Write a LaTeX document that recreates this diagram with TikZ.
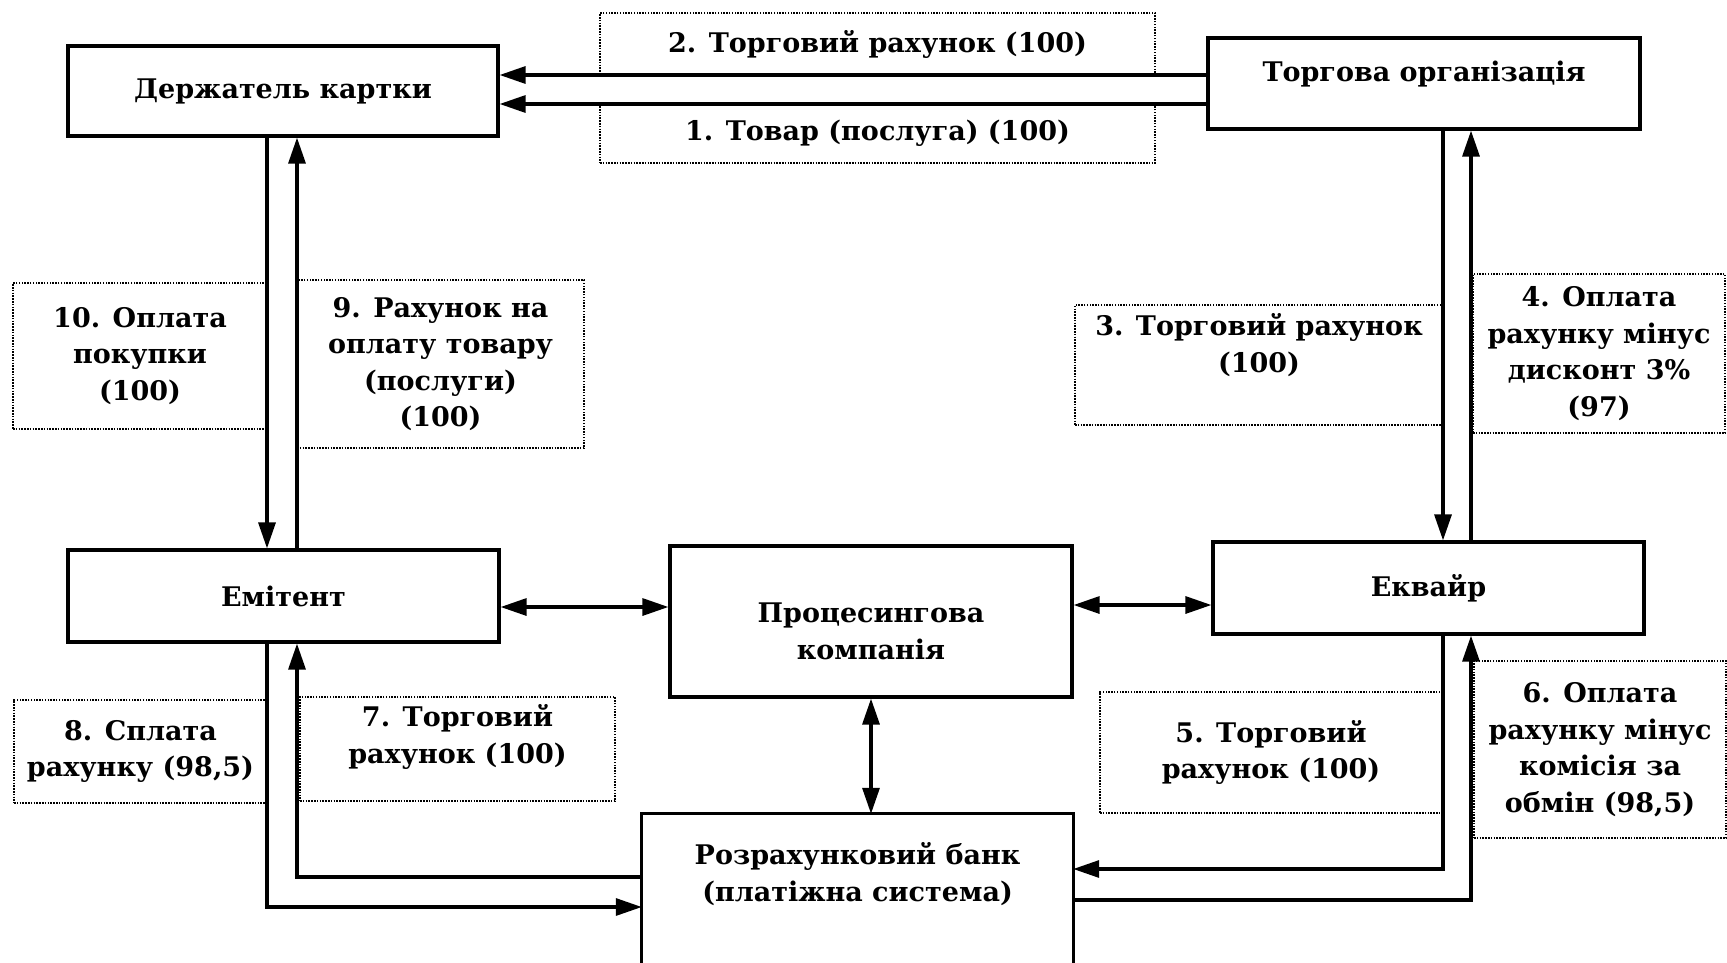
\documentclass[tikz,border=0pt]{standalone}
\usepackage{fontspec}
\setmainfont{DejaVu Serif}
\usepackage{tikz}
\usetikzlibrary{arrows.meta}

\begin{document}
\begin{tikzpicture}[x=1pt, y=-1pt,
        font=\fontsize{27}{36.5}\selectfont\bfseries,
        box/.style={draw, line width=3.2pt, align=center, inner sep=0pt},
        note/.style={draw, line width=1.6pt, dash pattern=on 1.5pt off 1.3pt, align=center, inner sep=0pt},
        arr/.style={line width=3.2pt, -{Triangle[length=26pt, width=17pt]}},
        dbl/.style={line width=3.2pt, {Triangle[length=26pt, width=17pt]}-{Triangle[length=26pt, width=17pt]}}]

        \useasboundingbox (0,0) rectangle (1727,962);

        \node[note, minimum width=555pt, minimum height=62pt] (n2) at (877.5,44) {2. Торговий рахунок (100)};
        \node[note, minimum width=555pt, minimum height=60pt] (n1) at (877.5,133) {1. Товар (послуга) (100)};
        \node[note, minimum width=254pt, minimum height=146pt] (n10) at (140,356) {10. Оплата\\покупки\\(100)};
        \node[note, minimum width=287pt, minimum height=168pt] (n9) at (440.5,364) {9. Рахунок на\\оплату товару\\(послуги)\\(100)};
        \node[note, minimum width=368pt, minimum height=120pt,
            label={[align=center, yshift=20pt]center:3. Торговий рахунок\\(100)}] (n3) at (1259,365) {};
        \node[note, minimum width=252pt, minimum height=159pt] (n4) at (1599,353.5) {4. Оплата\\рахунку мінус\\дисконт 3\%\\(97)};
        \node[note, minimum width=342pt, minimum height=121pt] (n5) at (1271,752.5) {5. Торговий\\рахунок (100)};
        \node[note, minimum width=252pt, minimum height=177pt] (n6) at (1600,749.5) {6. Оплата\\рахунку мінус\\комісія за\\обмін (98,5)};
        \node[note, minimum width=315pt, minimum height=104pt,
            label={[align=center, yshift=12pt]center:7. Торговий\\рахунок (100)}] (n7) at (457.5,749) {};
        \node[note, minimum width=253pt, minimum height=103pt] (n8) at (140.5,751.5) {8. Сплата\\рахунку (98,5)};

        \node[box, fill=white, minimum width=430pt, minimum height=90pt] (derzh) at (283,91) {Держатель картки};
        \node[box, fill=white, minimum width=432pt, minimum height=91pt, text depth=24pt] (torg) at (1424,83.5) {Торгова організація};
        \node[box, minimum width=431pt, minimum height=92pt] (emit) at (283.5,596) {Емітент};
        \node[box, minimum width=402pt, minimum height=151pt,
            label={[align=center, yshift=-10pt]center:Процесингова\\компанія}] (proc) at (871,621.5) {};
        \node[box, minimum width=431pt, minimum height=92pt] (ekv) at (1428.5,588) {Еквайр};
        \node[minimum width=431pt, minimum height=120pt, align=center, inner sep=0pt] (bank) at (857.5,874) {Розрахунковий банк\\(платіжна система)};
        \draw[line width=3.2pt] ([yshift=-60pt]bank.south west) -- (bank.north west) -- (bank.north east) -- ([yshift=-60pt]bank.south east);

        \draw[arr] (torg.west |- 0,75) -- (derzh.east |- 0,75);
        \draw[arr] (torg.west |- 0,104) -- (derzh.east |- 0,104);

        \draw[arr] (derzh.south -| 267,0) -- (emit.north -| 267,0);
        \draw[arr] (emit.north -| 297,0) -- (derzh.south -| 297,0);
        \draw[arr] (torg.south -| 1443,0) -- (ekv.north -| 1443,0);
        \draw[arr] (ekv.north -| 1471,0) -- (torg.south -| 1471,0);

        \draw[dbl] (emit.east |- 0,607) -- (proc.west |- 0,607);
        \draw[dbl] (proc.east |- 0,605) -- (ekv.west |- 0,605);
        \draw[dbl] (proc.south) -- (bank.north -| proc.south);

        \draw[arr] (emit.south -| 267,0) |- (bank.west |- 0,907);
        \draw[arr] (bank.west |- 0,877) -| (emit.south -| 297,0);
        \draw[arr] (ekv.south -| 1443,0) |- (bank.east |- 0,869);
        \draw[arr] (bank.east |- 0,900) -| (ekv.south -| 1471,0);
    \end{tikzpicture}
\end{document}
